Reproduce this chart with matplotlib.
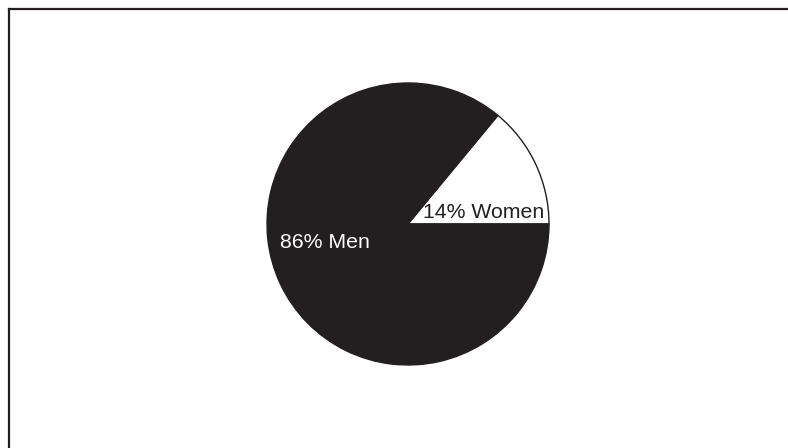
import matplotlib.pyplot as plt
from matplotlib.lines import Line2D

# Data
groups = ['Women', 'Men']
shares = [14, 86]
colors = ['#ffffff', '#231f20']
text_colors = ['#231f20', '#ffffff']

plt.rcParams['font.family'] = ['Liberation Sans', 'DejaVu Sans']

fig = plt.figure(figsize=(7.88, 4.48), dpi=100)
ax = fig.add_axes([0, 0, 1, 1])
ax.set_xlim(0, 788)
ax.set_ylim(0, 448)
ax.set_aspect('equal')
ax.axis('off')

# Pie centred in pixel coordinates
cx, cy, r = 408, 224, 141
wedges, _ = ax.pie(shares, colors=colors, startangle=0, counterclock=True,
                   center=(cx, cy), radius=r, frame=True,
                   wedgeprops=dict(edgecolor='#231f20', linewidth=1))
ax.set_xlim(0, 788)
ax.set_ylim(0, 448)
ax.axis('off')

# Label positions (offset from centre, pixels)
offsets = [(76, 12), (-83, -18)]
for g, s, tc, (dx, dy) in zip(groups, shares, text_colors, offsets):
    ax.text(cx + dx, cy + dy, f'{s}% {g}', color=tc, fontsize=15.3,
            ha='center', va='center')

# Top and left frame lines
fig.add_artist(Line2D([9 / 788, 1], [1 - 9.5 / 448, 1 - 9.5 / 448],
                      color='#231f20', linewidth=1.6))
fig.add_artist(Line2D([9 / 788, 9 / 788], [0, 1 - 9.5 / 448],
                      color='#231f20', linewidth=1.6))

fig.savefig('out.png', dpi=100)
